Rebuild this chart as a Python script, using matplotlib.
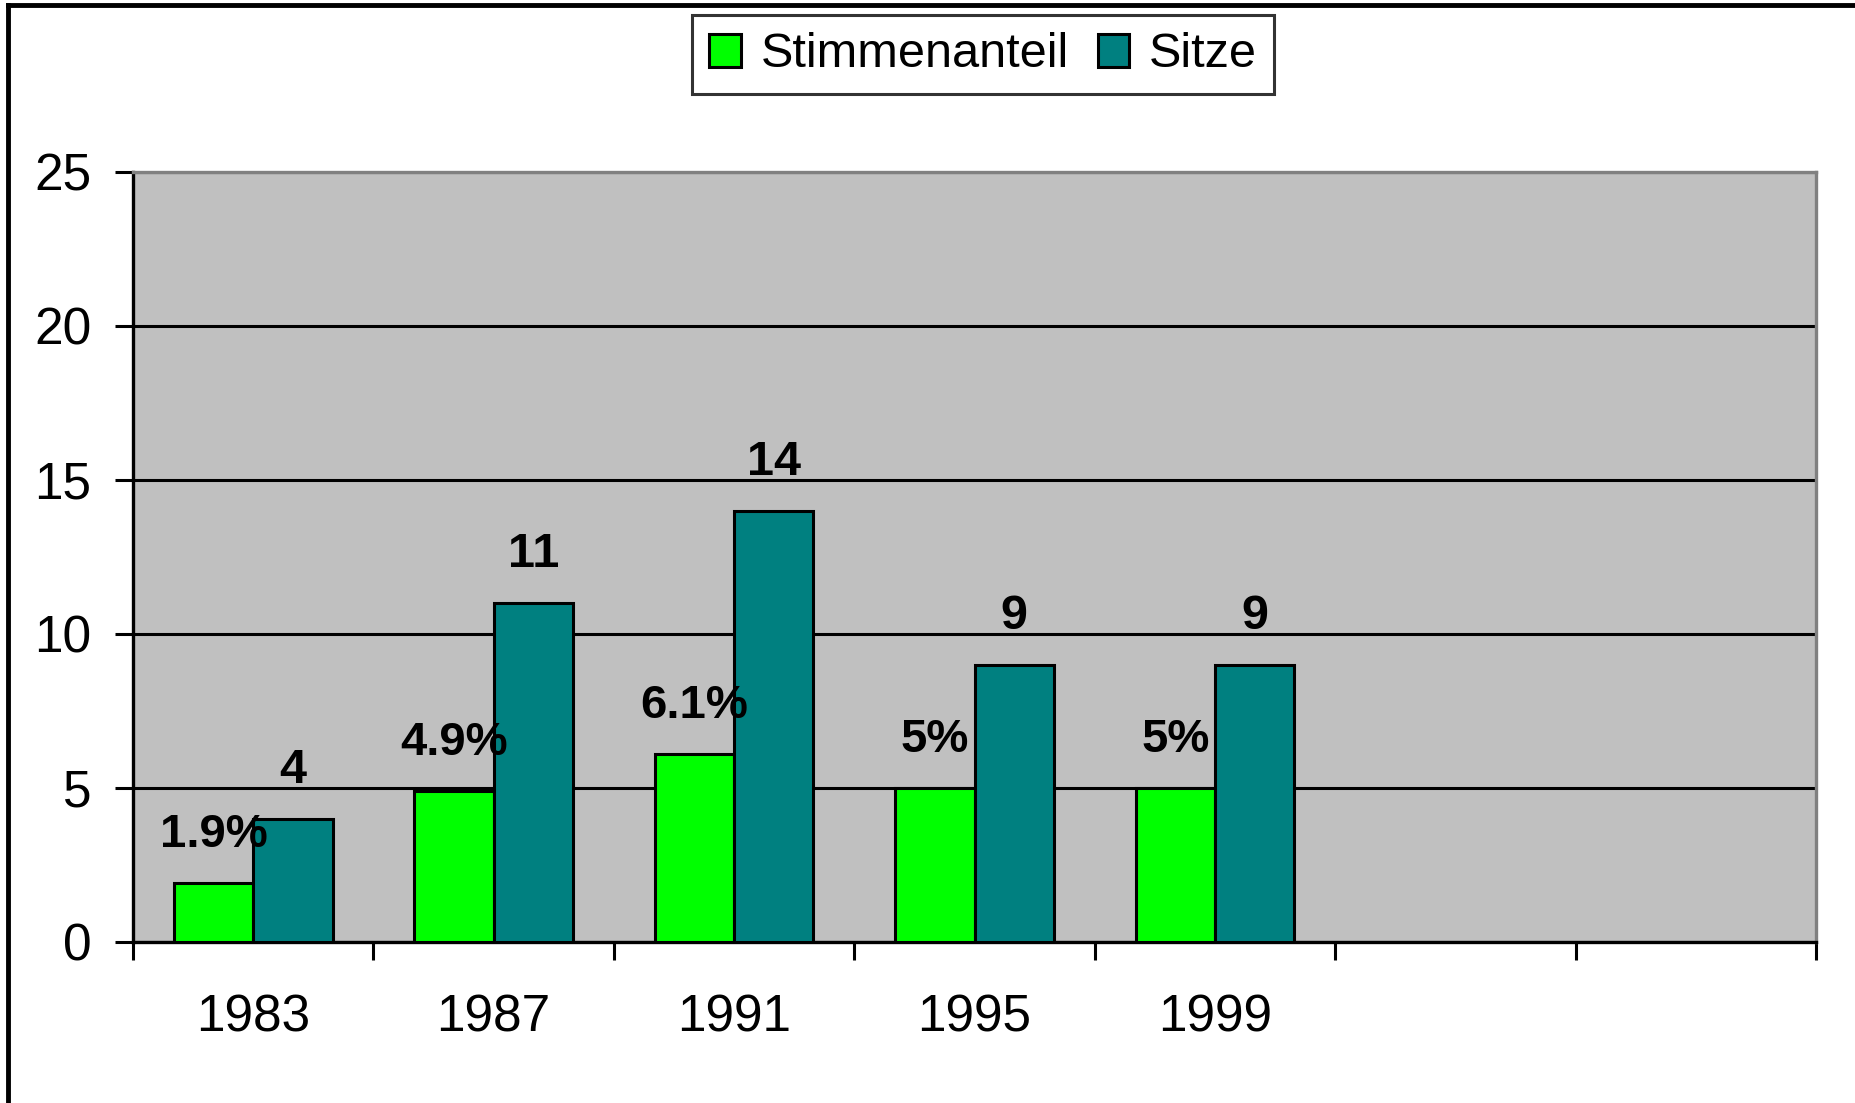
import matplotlib.pyplot as plt
from matplotlib.lines import Line2D
import numpy as np

# chart data
years = ['1983', '1987', '1991', '1995', '1999', '', '']
stimmen = [1.9, 4.9, 6.1, 5, 5]
sitze = [4, 11, 14, 9, 9]
stimmen_labels = ['1.9%', '4.9%', '6.1%', '5%', '5%']
sitze_labels = ['4', '11', '14', '9', '9']

plt.rcParams['font.family'] = ['Liberation Sans', 'DejaVu Sans']

fig = plt.figure(figsize=(18.55, 11.03), dpi=100)
ax = fig.add_axes([0.0717, 0.1460, 0.9073, 0.6981])

green = '#00FF00'
teal = '#008080'
w = 0.33
x = np.arange(len(stimmen))

ax.set_facecolor('#C0C0C0')
b1 = ax.bar(x - w / 2, stimmen, w, color=green, edgecolor='black', linewidth=2.2, label='Stimmenanteil', zorder=3)
b2 = ax.bar(x + w / 2, sitze, w, color=teal, edgecolor='black', linewidth=2.2, label='Sitze', zorder=3)

# value labels above bars
for xi, v, t in zip(x, stimmen, stimmen_labels):
    ax.annotate(t, (xi - w / 2, v), xytext=(0, 26), textcoords='offset points',
                ha='center', va='baseline', fontsize=34, fontweight='bold', zorder=4)
for xi, v, t in zip(x, sitze, sitze_labels):
    ax.annotate(t, (xi + w / 2, v), xytext=(0, 26), textcoords='offset points',
                ha='center', va='baseline', fontsize=35, fontweight='bold', zorder=4)

ax.set_xlim(-0.5, len(years) - 0.5)
ax.set_ylim(0, 25)
ax.set_yticks(range(0, 26, 5))
ax.yaxis.grid(True, color='black', linewidth=2.2)
ax.set_axisbelow(True)

# category boundaries as major ticks, year labels as minor ticks
ax.set_xticks(np.arange(-0.5, len(years), 1.0))
ax.set_xticklabels([])
ax.set_xticks(np.arange(len(years)), minor=True)
ax.set_xticklabels(years, minor=True)
ax.tick_params(axis='x', which='major', direction='out', length=13, width=2.2)
ax.tick_params(axis='x', which='minor', length=0, pad=37, labelsize=37)
ax.tick_params(axis='y', direction='out', length=13, width=2.2, pad=17, labelsize=37)

for s in ['left', 'bottom']:
    ax.spines[s].set_color('black')
    ax.spines[s].set_linewidth(2.4)
for s in ['top', 'right']:
    ax.spines[s].set_color('#808080')
    ax.spines[s].set_linewidth(2.4)

leg = fig.legend(handles=[b1, b2], loc='upper center', bbox_to_anchor=(0.530, 0.986),
                 ncol=2, fontsize=35, frameon=True, fancybox=False, handlelength=0.65,
                 handleheight=0.65, handletextpad=0.4, columnspacing=0.6, borderpad=0.35,
                 borderaxespad=0)
leg.get_frame().set_edgecolor('black')
leg.get_frame().set_linewidth(2.2)

# outer chart frame (only top and left edges visible)
fig.add_artist(Line2D([8 / 1855, 1], [1 - 5 / 1103, 1 - 5 / 1103], color='black', linewidth=3.5, transform=fig.transFigure))
fig.add_artist(Line2D([8 / 1855, 8 / 1855], [0, 1 - 5 / 1103], color='black', linewidth=3.5, transform=fig.transFigure))

fig.savefig('out.png', dpi=100)
